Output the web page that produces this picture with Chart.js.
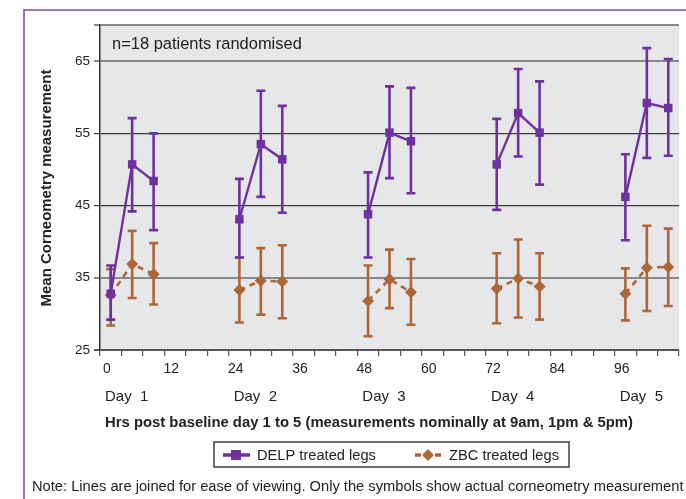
<!DOCTYPE html>
<html><head><meta charset="utf-8">
<script src="https://cdn.jsdelivr.net/npm/chart.js@4.4.1/dist/chart.umd.min.js"></script>
<style>html,body{margin:0;padding:0;background:#fff;}#wrap{position:relative;width:686px;height:499px;}</style>
</head><body><div id="wrap"><canvas id="c" width="686" height="499"></canvas></div>
<script>
// ---- data ----
const hours = [2, 6, 10, 26, 30, 34, 50, 54, 58, 74, 78, 82, 98, 102, 106];
const delpMean  = [32.8, 50.7, 48.4, 43.1, 53.5, 51.4, 43.8, 55.1, 53.9, 50.7, 57.8, 55.1, 46.2, 59.2, 58.5];
const delpUpper = [36.7, 57.1, 55.0, 48.7, 60.9, 58.8, 49.6, 61.5, 61.3, 57.0, 63.9, 62.2, 52.1, 66.8, 65.3];
const delpLower = [29.2, 44.2, 41.6, 37.8, 46.2, 44.0, 37.8, 48.8, 46.7, 44.4, 51.8, 47.9, 40.2, 51.6, 51.9];
const zbcMean   = [32.6, 36.9, 35.5, 33.3, 34.6, 34.5, 31.8, 34.8, 33.0, 33.5, 34.9, 33.8, 32.8, 36.4, 36.5];
const zbcUpper  = [36.2, 41.5, 39.8, 37.8, 39.1, 39.5, 36.7, 38.9, 37.6, 38.4, 40.3, 38.4, 36.3, 42.2, 41.8];
const zbcLower  = [28.4, 32.2, 31.3, 28.8, 29.9, 29.4, 26.9, 30.8, 28.5, 28.7, 29.5, 29.2, 29.1, 30.4, 31.1];
const seriesNames = ['DELP treated legs', 'ZBC treated legs'];
const yTicks = [25, 35, 45, 55, 65, 70];
const yTickLabels = ['25', '35', '45', '55', '65', ''];
const xLabelHours = [0, 12, 24, 36, 48, 60, 72, 84, 96];
const dayHours = [0, 24, 48, 72, 96];
const dayLabels = ['Day  1', 'Day  2', 'Day  3', 'Day  4', 'Day  5'];
const yTitle = 'Mean Corneometry measurement';
const xTitle = 'Hrs post baseline day 1 to 5 (measurements nominally at 9am, 1pm & 5pm)';
const noteText = 'Note: Lines are joined for ease of viewing. Only the symbols show actual corneometry measurement';
const subText = 'n=18 patients randomised';

const FONT = "'Liberation Sans', Arial, Helvetica, sans-serif";
const PURPLE = '#7031a0';
const BROWN = '#ad6638';

function buildPoints(mean, up, lo) {
  const pts = [];
  hours.forEach((h, i) => {
    if (i > 0 && i % 3 === 0) pts.push({x: h - 8, y: null});
    pts.push({x: h, y: mean[i], hi: up[i], lo: lo[i]});
  });
  return pts;
}

const errorBars = {
  id: 'errorBars',
  beforeDatasetDraw(chart, args) {
    const ds = chart.data.datasets[args.index];
    const ys = chart.scales.y;
    const ctx = chart.ctx;
    ctx.save();
    ctx.strokeStyle = ds.borderColor;
    ctx.lineWidth = 2.6;
    ctx.setLineDash([]);
    ds.data.forEach((d, j) => {
      if (d.y == null) return;
      const el = args.meta.data[j];
      const x = el.x;
      const t = ys.getPixelForValue(d.hi), b = ys.getPixelForValue(d.lo);
      ctx.beginPath();
      ctx.moveTo(x, t); ctx.lineTo(x, b);
      ctx.moveTo(x - 4.5, t); ctx.lineTo(x + 4.5, t);
      ctx.moveTo(x - 4.5, b); ctx.lineTo(x + 4.5, b);
      ctx.stroke();
    });
    ctx.restore();
  }
};

function fitSize(ctx, text, width, weight) {
  ctx.font = weight + ' 100px ' + FONT;
  return 100 * width / ctx.measureText(text).width;
}

const decor = {
  id: 'decor',
  beforeDraw(chart) {
    const {ctx, chartArea: a} = chart;
    ctx.save();
    ctx.fillStyle = '#e6e7e9';
    ctx.fillRect(a.left, a.top, a.right - a.left, a.bottom - a.top);
    ctx.restore();
  },
  afterDraw(chart) {
    const ctx = chart.ctx;
    ctx.save();
    // outer frame
    ctx.strokeStyle = '#7b4f9f';
    ctx.lineWidth = 1.6;
    ctx.beginPath();
    ctx.moveTo(24, 510); ctx.lineTo(24, 10); ctx.lineTo(700, 10);
    ctx.stroke();
    ctx.fillStyle = '#222';
    ctx.textBaseline = 'middle';
    // subtitle
    let s = fitSize(ctx, subText, 190, 'normal');
    ctx.font = s.toFixed(2) + 'px ' + FONT;
    ctx.textAlign = 'left';
    ctx.fillText(subText, 112, 44);
    // x title
    s = fitSize(ctx, xTitle, 528, 'bold');
    ctx.font = 'bold ' + s.toFixed(2) + 'px ' + FONT;
    ctx.fillText(xTitle, 105, 423);
    // y title
    s = fitSize(ctx, yTitle, 237, 'bold');
    ctx.save();
    ctx.translate(47, 188);
    ctx.rotate(-Math.PI / 2);
    ctx.font = 'bold ' + s.toFixed(2) + 'px ' + FONT;
    ctx.textAlign = 'center';
    ctx.fillText(yTitle, 0, 0);
    ctx.restore();
    // note
    s = fitSize(ctx, noteText, 652, 'normal');
    ctx.font = s.toFixed(2) + 'px ' + FONT;
    ctx.fillText(noteText, 32, 487);
    // legend
    ctx.fillStyle = '#fff';
    ctx.fillRect(214, 442, 355, 25);
    ctx.strokeStyle = '#222';
    ctx.lineWidth = 1.3;
    ctx.strokeRect(214, 442, 355, 25);
    const ly = 455;
    ctx.strokeStyle = PURPLE; ctx.lineWidth = 3.5;
    ctx.beginPath(); ctx.moveTo(223, ly); ctx.lineTo(250, ly); ctx.stroke();
    ctx.fillStyle = PURPLE; ctx.fillRect(231, ly - 5, 10, 10);
    ctx.strokeStyle = BROWN; ctx.lineWidth = 3.5;
    ctx.beginPath(); ctx.moveTo(415, ly); ctx.lineTo(421, ly); ctx.moveTo(435, ly); ctx.lineTo(441, ly); ctx.stroke();
    ctx.fillStyle = BROWN;
    ctx.beginPath(); ctx.moveTo(428, ly - 6); ctx.lineTo(434, ly); ctx.lineTo(428, ly + 6); ctx.lineTo(422, ly); ctx.closePath(); ctx.fill();
    ctx.fillStyle = '#222';
    s = fitSize(ctx, seriesNames[0], 119, 'normal');
    ctx.font = s.toFixed(2) + 'px ' + FONT;
    ctx.fillText(seriesNames[0], 257, ly + 1);
    ctx.fillText(seriesNames[1], 449, ly + 1);
    ctx.restore();
  }
};

new Chart(document.getElementById('c'), {
  type: 'line',
  data: {
    datasets: [
      {label: seriesNames[0], data: buildPoints(delpMean, delpUpper, delpLower),
       borderColor: PURPLE, backgroundColor: PURPLE, borderWidth: 2.4,
       pointStyle: 'rect', pointRadius: 6, pointBorderWidth: 0, spanGaps: false, tension: 0},
      {label: seriesNames[1], data: buildPoints(zbcMean, zbcUpper, zbcLower),
       borderColor: BROWN, backgroundColor: BROWN, borderWidth: 2.6, borderDash: [6, 5],
       pointStyle: 'rectRot', pointRadius: 6, pointBorderWidth: 0, spanGaps: false, tension: 0}
    ]
  },
  plugins: [errorBars, decor],
  options: {
    responsive: false, animation: false,
    layout: {padding: {left: 0, right: 7, top: 25, bottom: 89}},
    plugins: {legend: {display: false}, tooltip: {enabled: false}},
    scales: {
      x: {
        type: 'linear', min: 0, max: 108, position: 'bottom', weight: 0,
        afterBuildTicks: s => { const t = []; for (let v = 0; v <= 108; v += 4) t.push({value: v}); s.ticks = t; },
        ticks: {autoSkip: false, maxRotation: 0, labelOffset: 7, padding: 5, color: '#222',
                font: {family: FONT, size: 14},
                callback: v => xLabelHours.includes(v) ? String(v) : ''},
        grid: {drawOnChartArea: false, drawTicks: true, tickLength: 6, color: '#555', lineWidth: 1.2},
        border: {color: '#555', width: 1.5},
        afterFit: s => { s.height = 24; }
      },
      x2: {
        type: 'linear', min: 0, max: 108, position: 'bottom', weight: 1,
        afterBuildTicks: s => { s.ticks = dayHours.map(v => ({value: v})); },
        ticks: {autoSkip: false, maxRotation: 0, align: 'start', labelOffset: 5, padding: 6, color: '#222',
                font: {family: FONT, size: 15},
                callback: v => dayLabels[dayHours.indexOf(v)]},
        grid: {display: false}, border: {display: false},
        afterFit: s => { s.height = 36; }
      },
      y: {
        min: 25, max: 70,
        afterBuildTicks: s => { s.ticks = yTicks.map(v => ({value: v})); },
        ticks: {padding: 4, color: '#222', font: {family: FONT, size: 13.5},
                callback: v => yTickLabels[yTicks.indexOf(v)]},
        grid: {tickLength: 6,
               color: c => (c.tick && (c.tick.value === 45 || c.tick.value === 55)) ? '#3a3a3a' : (c.tick && c.tick.value === 25 ? '#555' : '#878787'),
               lineWidth: c => (c.tick && (c.tick.value === 45 || c.tick.value === 55)) ? 1.2 : 2},
        border: {color: '#333', width: 1.5},
        afterFit: s => { s.width = 100; }
      }
    }
  }
});
</script></body></html>
